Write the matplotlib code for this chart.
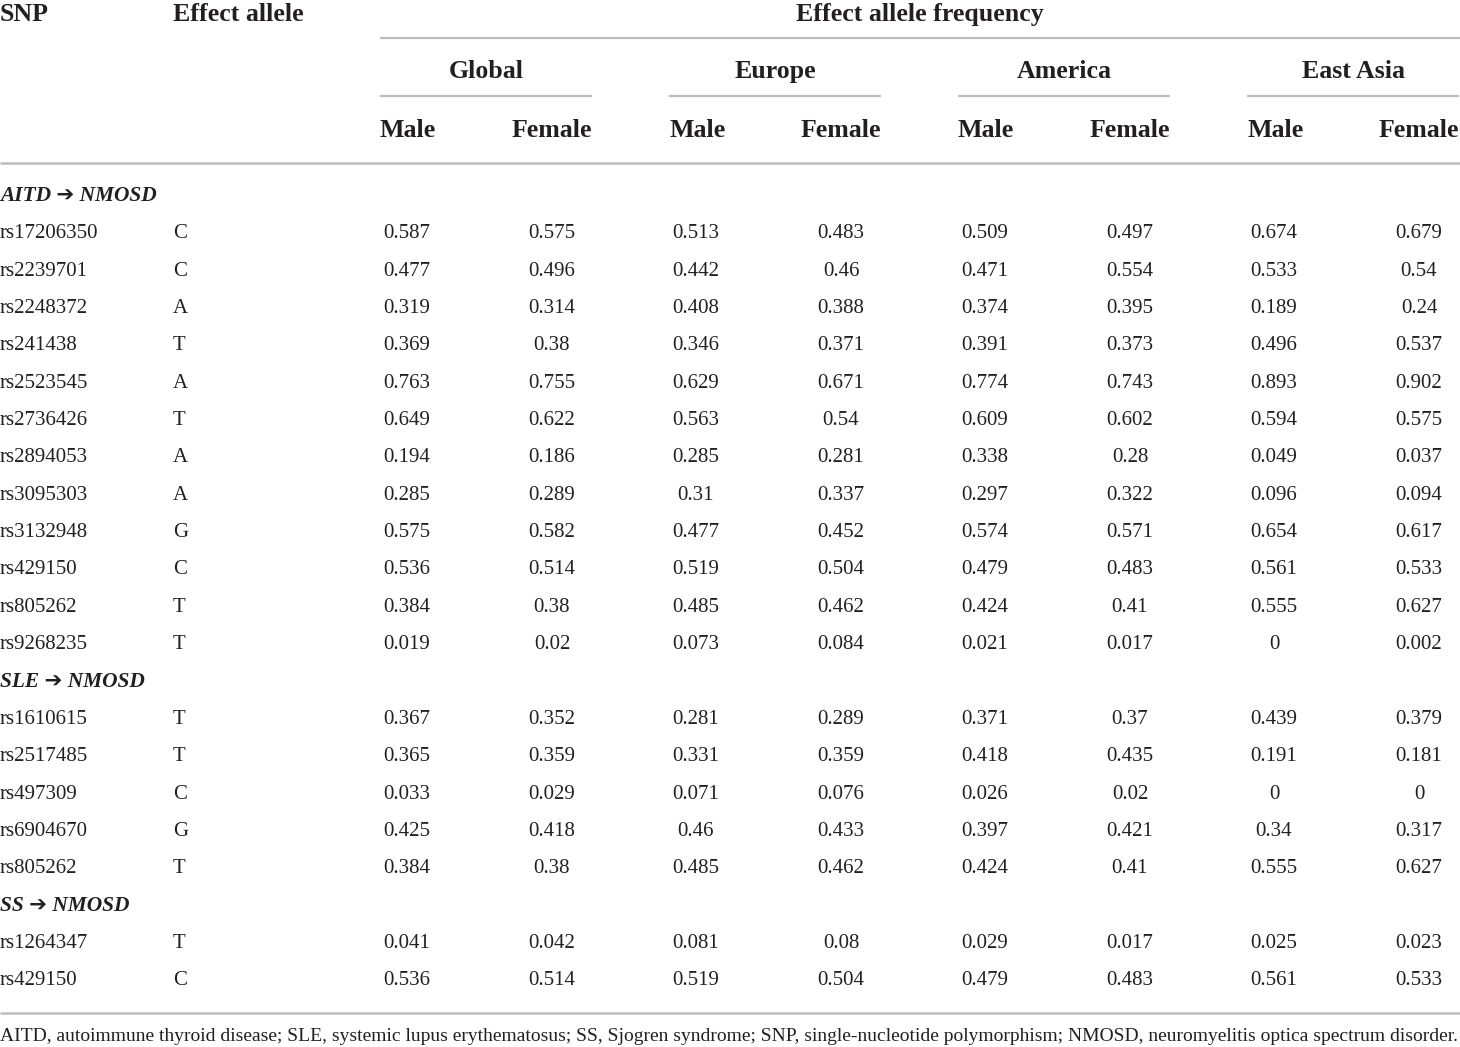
import matplotlib.pyplot as plt

# table content
regions = ['Global', 'Europe', 'America', 'East Asia']
sexes = ['Male', 'Female']

sections = ['AITD \u2794 NMOSD', 'SLE \u2794 NMOSD', 'SS \u2794 NMOSD']

aitd_snps = ['rs17206350', 'rs2239701', 'rs2248372', 'rs241438', 'rs2523545', 'rs2736426',
             'rs2894053', 'rs3095303', 'rs3132948', 'rs429150', 'rs805262', 'rs9268235']
aitd_alleles = ['C', 'C', 'A', 'T', 'A', 'T', 'A', 'A', 'G', 'C', 'T', 'T']
aitd_freq = [
    ['0.587', '0.575', '0.513', '0.483', '0.509', '0.497', '0.674', '0.679'],
    ['0.477', '0.496', '0.442', '0.46', '0.471', '0.554', '0.533', '0.54'],
    ['0.319', '0.314', '0.408', '0.388', '0.374', '0.395', '0.189', '0.24'],
    ['0.369', '0.38', '0.346', '0.371', '0.391', '0.373', '0.496', '0.537'],
    ['0.763', '0.755', '0.629', '0.671', '0.774', '0.743', '0.893', '0.902'],
    ['0.649', '0.622', '0.563', '0.54', '0.609', '0.602', '0.594', '0.575'],
    ['0.194', '0.186', '0.285', '0.281', '0.338', '0.28', '0.049', '0.037'],
    ['0.285', '0.289', '0.31', '0.337', '0.297', '0.322', '0.096', '0.094'],
    ['0.575', '0.582', '0.477', '0.452', '0.574', '0.571', '0.654', '0.617'],
    ['0.536', '0.514', '0.519', '0.504', '0.479', '0.483', '0.561', '0.533'],
    ['0.384', '0.38', '0.485', '0.462', '0.424', '0.41', '0.555', '0.627'],
    ['0.019', '0.02', '0.073', '0.084', '0.021', '0.017', '0', '0.002'],
]

sle_snps = ['rs1610615', 'rs2517485', 'rs497309', 'rs6904670', 'rs805262']
sle_alleles = ['T', 'T', 'C', 'G', 'T']
sle_freq = [
    ['0.367', '0.352', '0.281', '0.289', '0.371', '0.37', '0.439', '0.379'],
    ['0.365', '0.359', '0.331', '0.359', '0.418', '0.435', '0.191', '0.181'],
    ['0.033', '0.029', '0.071', '0.076', '0.026', '0.02', '0', '0'],
    ['0.425', '0.418', '0.46', '0.433', '0.397', '0.421', '0.34', '0.317'],
    ['0.384', '0.38', '0.485', '0.462', '0.424', '0.41', '0.555', '0.627'],
]

ss_snps = ['rs1264347', 'rs429150']
ss_alleles = ['T', 'C']
ss_freq = [
    ['0.041', '0.042', '0.081', '0.08', '0.029', '0.017', '0.025', '0.023'],
    ['0.536', '0.514', '0.519', '0.504', '0.479', '0.483', '0.561', '0.533'],
]

footnote = ('AITD, autoimmune thyroid disease; SLE, systemic lupus erythematosus; SS, Sjogren syndrome; '
            'SNP, single-nucleotide polymorphism; NMOSD, neuromyelitis optica spectrum disorder.')

W, H = 1460, 1047
fig = plt.figure(figsize=(W / 100, H / 100), dpi=100)
ax = fig.add_axes([0, 0, 1, 1])
ax.set_xlim(0, W)
ax.set_ylim(H, 0)
ax.axis('off')

ink = '#231f20'
rule = '#bdbdbd'
serif = ['Liberation Serif', 'DejaVu Serif']
arrowfam = ['Liberation Serif', 'DejaVu Sans']
hfs = 18.6
dfs = 15

# header
ax.text(0, 21, 'SNP', fontsize=hfs, fontweight='bold', family=serif, color=ink, va='baseline')
ax.text(173, 21, 'Effect allele', fontsize=hfs, fontweight='bold', family=serif, color=ink, va='baseline')
ax.text(920, 21, 'Effect allele frequency', fontsize=hfs, fontweight='bold', family=serif,
        color=ink, va='baseline', ha='center')
ax.plot([380, 1460], [38, 38], color=rule, lw=1.6, solid_capstyle='butt')

group_left = 380
group_step = 289
col_centers = []
for g, reg in enumerate(regions):
    x0 = group_left + g * group_step
    ax.text(x0 + 106, 78, reg, fontsize=hfs, fontweight='bold', family=serif, color=ink,
            va='baseline', ha='center')
    ax.plot([x0, x0 + 212], [96, 96], color=rule, lw=1.6, solid_capstyle='butt')
    ax.text(x0, 137, sexes[0], fontsize=hfs, fontweight='bold', family=serif, color=ink, va='baseline')
    ax.text(x0 + 212, 137, sexes[1], fontsize=hfs, fontweight='bold', family=serif, color=ink,
            va='baseline', ha='right')
    col_centers += [x0 + 27, x0 + 172]

ax.plot([0, 1460], [163, 163], color=rule, lw=1.8, solid_capstyle='butt')

# body
y0, dy = 194, 37.35
row = 0
for name, snps, alleles, freq in [(sections[0], aitd_snps, aitd_alleles, aitd_freq),
                                  (sections[1], sle_snps, sle_alleles, sle_freq),
                                  (sections[2], ss_snps, ss_alleles, ss_freq)]:
    yb = y0 + row * dy + 7
    ax.text(0, yb, name, fontsize=dfs + 0.4, fontweight='bold', fontstyle='italic',
            family=arrowfam, color=ink, va='baseline')
    row += 1
    for snp, al, vals in zip(snps, alleles, freq):
        yb = y0 + row * dy + 7
        ax.text(0, yb, snp, fontsize=dfs, family=serif, color=ink, va='baseline')
        ax.text(173, yb, al, fontsize=dfs, family=serif, color=ink, va='baseline')
        for xc, v in zip(col_centers, vals):
            ax.text(xc, yb, v, fontsize=dfs, family=serif, color=ink, va='baseline', ha='center')
        row += 1

ax.plot([0, 1460], [1013, 1013], color=rule, lw=1.8, solid_capstyle='butt')

fn = ax.text(0, 1041, footnote, fontsize=14, family=serif, color=ink, va='baseline')
fig.canvas.draw()
bw = fn.get_window_extent().width
fn.set_fontsize(14 * 1458 / bw)

fig.savefig('out.png', dpi=100, facecolor='white')
